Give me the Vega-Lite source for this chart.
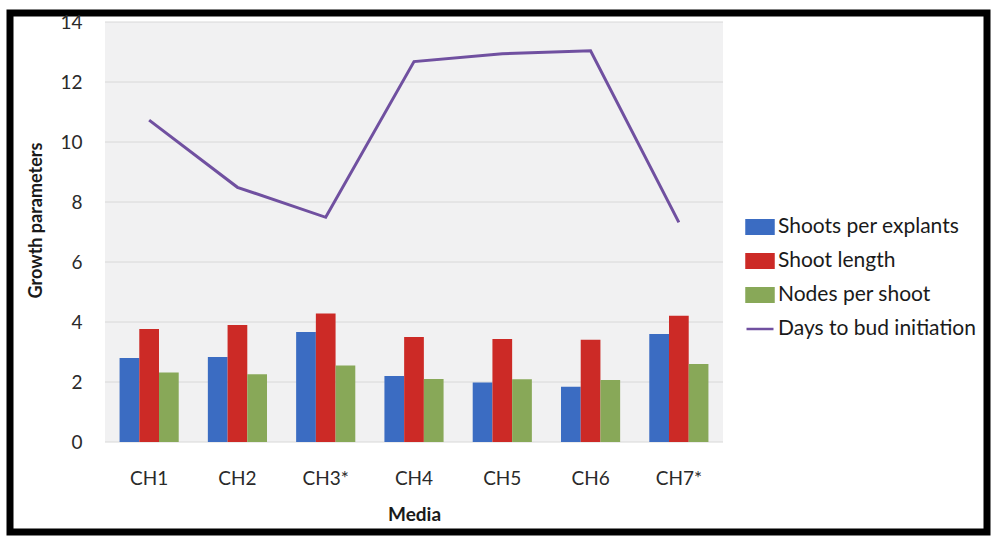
{
  "$schema": "https://vega.github.io/schema/vega-lite/v6.json",
  "width": 977,
  "height": 519,
  "autosize": {"type": "none"},
  "padding": {"left": 10, "top": 13, "right": 6, "bottom": 4},
  "background": "white",
  "config": {
    "font": "Lato",
    "view": {"stroke": "#000000", "strokeWidth": 7, "fill": "white"}
  },
  "datasets": {
    "bars": [
      {"media": "CH1", "series": "Shoots per explants", "value": 2.8},
      {"media": "CH1", "series": "Shoot length", "value": 3.77},
      {"media": "CH1", "series": "Nodes per shoot", "value": 2.32},
      {"media": "CH2", "series": "Shoots per explants", "value": 2.83},
      {"media": "CH2", "series": "Shoot length", "value": 3.9},
      {"media": "CH2", "series": "Nodes per shoot", "value": 2.26},
      {"media": "CH3*", "series": "Shoots per explants", "value": 3.67},
      {"media": "CH3*", "series": "Shoot length", "value": 4.28},
      {"media": "CH3*", "series": "Nodes per shoot", "value": 2.55},
      {"media": "CH4", "series": "Shoots per explants", "value": 2.2},
      {"media": "CH4", "series": "Shoot length", "value": 3.5},
      {"media": "CH4", "series": "Nodes per shoot", "value": 2.1},
      {"media": "CH5", "series": "Shoots per explants", "value": 1.98},
      {"media": "CH5", "series": "Shoot length", "value": 3.43},
      {"media": "CH5", "series": "Nodes per shoot", "value": 2.09},
      {"media": "CH6", "series": "Shoots per explants", "value": 1.84},
      {"media": "CH6", "series": "Shoot length", "value": 3.41},
      {"media": "CH6", "series": "Nodes per shoot", "value": 2.07},
      {"media": "CH7*", "series": "Shoots per explants", "value": 3.6},
      {"media": "CH7*", "series": "Shoot length", "value": 4.21},
      {"media": "CH7*", "series": "Nodes per shoot", "value": 2.6}
    ],
    "days": [
      {"media": "CH1", "series": "Days to bud initiation", "value": 10.73},
      {"media": "CH2", "series": "Days to bud initiation", "value": 8.49},
      {"media": "CH3*", "series": "Days to bud initiation", "value": 7.49},
      {"media": "CH4", "series": "Days to bud initiation", "value": 12.68},
      {"media": "CH5", "series": "Days to bud initiation", "value": 12.94},
      {"media": "CH6", "series": "Days to bud initiation", "value": 13.04},
      {"media": "CH7*", "series": "Days to bud initiation", "value": 7.32}
    ],
    "plotArea": [{"from": 0, "to": 1, "low": 0, "high": 14}],
    "gridLines": [
      {"from": 0, "to": 1, "level": 0},
      {"from": 0, "to": 1, "level": 2},
      {"from": 0, "to": 1, "level": 4},
      {"from": 0, "to": 1, "level": 6},
      {"from": 0, "to": 1, "level": 8},
      {"from": 0, "to": 1, "level": 10},
      {"from": 0, "to": 1, "level": 12},
      {"from": 0, "to": 1, "level": 14}
    ]
  },
  "resolve": {"scale": {"x": "independent"}},
  "layer": [
    {
      "encoding": {
        "x": {"field": "from", "type": "quantitative", "axis": null,
              "scale": {"domain": [0, 1], "range": [95, 713], "nice": false, "zero": false}},
        "x2": {"field": "to"}
      },
      "layer": [
        {
          "data": {"name": "plotArea"},
          "mark": {"type": "rect", "color": "#f1f1f2"},
          "encoding": {
            "y": {"field": "low", "type": "quantitative",
                  "scale": {"domain": [0, 14], "range": [429, 9], "nice": false, "zero": true},
                  "axis": {
                    "orient": "left", "offset": -95, "values": [0, 2, 4, 6, 8, 10, 12, 14],
                    "domain": false, "ticks": false, "grid": false,
                    "labelFontSize": 19, "labelColor": "#2a2a2a", "labelPadding": 23,
                    "title": "Growth parameters", "titleFontSize": 18, "titleFontWeight": "bold",
                    "titleColor": "#1a1a1a", "titlePadding": 14, "titleY": 207
                  }},
            "y2": {"field": "high"}
          }
        },
        {
          "data": {"name": "gridLines"},
          "mark": {"type": "rule", "color": "#d8d8d8", "strokeWidth": 1},
          "encoding": {
            "y": {"field": "level", "type": "quantitative"}
          }
        }
      ]
    },
    {
      "layer": [
        {
          "data": {"name": "bars"},
          "mark": {"type": "bar"},
          "encoding": {
            "xOffset": {"field": "series", "type": "nominal",
                        "scale": {"domain": ["Shoots per explants", "Shoot length", "Nodes per shoot"], "paddingInner": 0, "paddingOuter": 0}},
            "y": {"field": "value", "type": "quantitative"},
            "color": {"field": "series", "type": "nominal"}
          }
        },
        {
          "data": {"name": "days"},
          "mark": {"type": "line", "strokeWidth": 3, "strokeJoin": "miter"},
          "encoding": {
            "y": {"field": "value", "type": "quantitative"},
            "color": {"field": "series", "type": "nominal"}
          }
        }
      ],
      "encoding": {
        "x": {
          "field": "media", "type": "nominal", "sort": ["CH1", "CH2", "CH3*", "CH4", "CH5", "CH6", "CH7*"],
          "scale": {"range": [95, 713], "paddingInner": 0.33, "paddingOuter": 0.165},
          "axis": {
            "orient": "bottom", "offset": -90, "labelAngle": 0, "domain": false, "ticks": false,
            "labelFontSize": 19, "labelColor": "#2a2a2a", "labelPadding": 27,
            "title": "Media", "titleFontSize": 19, "titleFontWeight": "bold", "titleColor": "#1a1a1a",
            "titlePadding": 17
          }
        },
        "color": {
          "field": "series", "type": "nominal",
          "scale": {
            "domain": ["Shoots per explants", "Shoot length", "Nodes per shoot", "Days to bud initiation"],
            "range": ["#3b6cc2", "#cc2a26", "#88a858", "#7050a0"]
          },
          "legend": {
            "title": null, "orient": "none", "legendX": 735, "legendY": 199,
            "labelFontSize": 21, "labelColor": "#1a1a1a", "labelOffset": 3, "rowPadding": 7,
            "labelLimit": 0, "symbolSize": 729,
            "encode": {
              "symbols": {
                "update": {
                  "shape": {"signal": "datum.value === 'Days to bud initiation' ? 'M-1,0H1' : 'M-1,-0.5H1V0.5H-1Z'"},
                  "fill": {"signal": "datum.value === 'Days to bud initiation' ? 'transparent' : scale('color', datum.value)"},
                  "stroke": {"signal": "datum.value === 'Days to bud initiation' ? scale('color', datum.value) : 'transparent'"},
                  "strokeWidth": {"value": 2.5},
                  "opacity": {"value": 1}
                }
              }
            }
          }
        }
      }
    }
  ]
}
